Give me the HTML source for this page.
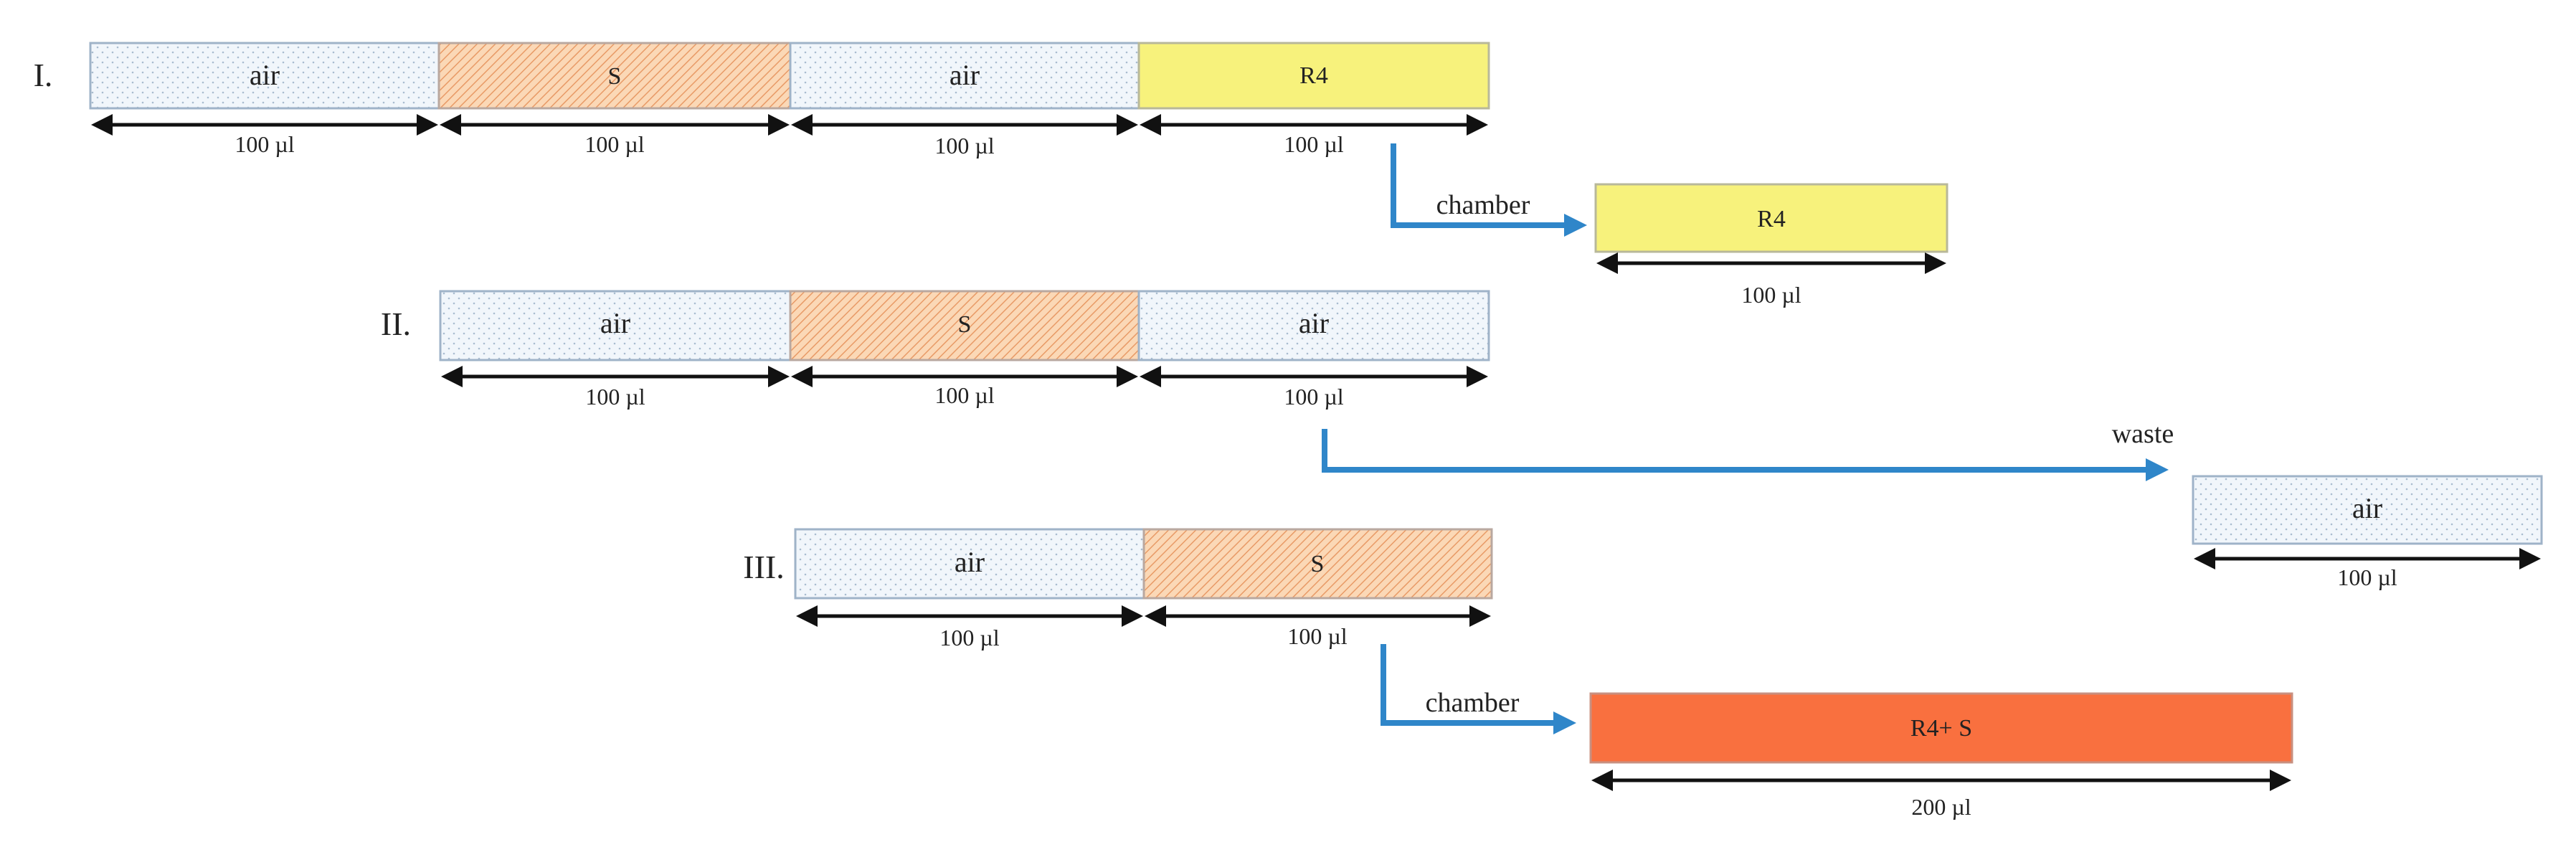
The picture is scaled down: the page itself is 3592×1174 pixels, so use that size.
<!DOCTYPE html>
<html><head><meta charset="utf-8"><style>
html,body{margin:0;padding:0;background:#fff;}
svg{display:block;}
text{font-family:"Liberation Serif",serif;fill:#222;}
</style></head><body>
<svg width="3592" height="1174" viewBox="0 0 3592 1174" xmlns="http://www.w3.org/2000/svg">
<defs>
<pattern id="dots" width="14" height="14" patternUnits="userSpaceOnUse">
<rect width="14" height="14" fill="#f1f6fb"/>
<circle cx="3" cy="3" r="1.3" fill="#a9bcd0"/>
<circle cx="10" cy="10" r="1.3" fill="#a9bcd0"/>
</pattern>
<pattern id="hatch" width="9" height="9" patternUnits="userSpaceOnUse" patternTransform="rotate(45)">
<rect width="9" height="9" fill="#fbd8b6"/>
<line x1="0" y1="0" x2="0" y2="9" stroke="#e89a66" stroke-width="3"/>
</pattern>
<marker id="ah" markerWidth="6" markerHeight="6" refX="5" refY="3" orient="auto-start-reverse" markerUnits="strokeWidth">
<path d="M0,0 L6,3 L0,6 z" fill="#111"/>
</marker>
<marker id="bh" markerWidth="4" markerHeight="4" refX="3" refY="2" orient="auto" markerUnits="strokeWidth">
<path d="M0,0 L4,2 L0,4 z" fill="#2f86c9"/>
</marker>
</defs>

<g stroke="#9fb3c8" stroke-width="3">
<!-- Row I -->
<rect x="126" y="60" width="486" height="91" fill="url(#dots)"/>
<rect x="612" y="60" width="490" height="91" fill="url(#hatch)" stroke="#b9a8a0"/>
<rect x="1102" y="60" width="486" height="91" fill="url(#dots)"/>
<rect x="1588" y="60" width="488" height="91" fill="#f7f27c" stroke="#b8b89a"/>
<rect x="2225" y="257" width="490" height="94" fill="#f7f27c" stroke="#b8b89a"/>
<!-- Row II -->
<rect x="614" y="406" width="488" height="96" fill="url(#dots)"/>
<rect x="1102" y="406" width="486" height="96" fill="url(#hatch)" stroke="#b9a8a0"/>
<rect x="1588" y="406" width="488" height="96" fill="url(#dots)"/>
<rect x="3058" y="664" width="486" height="94" fill="url(#dots)"/>
<!-- Row III -->
<rect x="1109" y="738" width="486" height="96" fill="url(#dots)"/>
<rect x="1595" y="738" width="485" height="96" fill="url(#hatch)" stroke="#b9a8a0"/>
<rect x="2218" y="967" width="978" height="96" fill="#f9703f" stroke="#c89080"/>
</g>

<g stroke="#111" stroke-width="5" fill="none" marker-start="url(#ah)" marker-end="url(#ah)">
<line x1="132" y1="174" x2="606" y2="174"/>
<line x1="618" y1="174" x2="1096" y2="174"/>
<line x1="1108" y1="174" x2="1582" y2="174"/>
<line x1="1594" y1="174" x2="2070" y2="174"/>
<line x1="2231" y1="367" x2="2709" y2="367"/>
<line x1="620" y1="525" x2="1096" y2="525"/>
<line x1="1108" y1="525" x2="1582" y2="525"/>
<line x1="1594" y1="525" x2="2070" y2="525"/>
<line x1="3064" y1="779" x2="3538" y2="779"/>
<line x1="1115" y1="859" x2="1589" y2="859"/>
<line x1="1601" y1="859" x2="2074" y2="859"/>
<line x1="2224" y1="1088" x2="3190" y2="1088"/>
</g>

<g stroke="#2f86c9" stroke-width="8" fill="none">
<polyline points="1943,200 1943,314 2205,314" marker-end="url(#bh)"/>
<polyline points="1847,598 1847,655 3016,655" marker-end="url(#bh)"/>
<polyline points="1929,898 1929,1008 2190,1008" marker-end="url(#bh)"/>
</g>

<g font-size="46" text-anchor="middle">
<text x="60" y="120">I.</text>
<text x="552" y="467">II.</text>
<text x="1065" y="806">III.</text>
</g>
<g font-size="40" text-anchor="middle">
<text x="369" y="118">air</text>
<text x="1345" y="118">air</text>
<text x="858" y="464">air</text>
<text x="1832" y="464">air</text>
<text x="3301" y="722">air</text>
<text x="1352" y="797">air</text>
</g>
<g font-size="34" text-anchor="middle">
<text x="857" y="117">S</text>
<text x="1345" y="463">S</text>
<text x="1837" y="797">S</text>
<text x="1832" y="116">R4</text>
<text x="2470" y="316">R4</text>
<text x="2707" y="1026">R4+ S</text>
</g>
<g font-size="32" text-anchor="middle">
<text x="369" y="212">100 µl</text>
<text x="857" y="212">100 µl</text>
<text x="1345" y="214">100 µl</text>
<text x="1832" y="212">100 µl</text>
<text x="2470" y="422">100 µl</text>
<text x="858" y="564">100 µl</text>
<text x="1345" y="562">100 µl</text>
<text x="1832" y="564">100 µl</text>
<text x="3301" y="816">100 µl</text>
<text x="1352" y="900">100 µl</text>
<text x="1837" y="898">100 µl</text>
<text x="2707" y="1136">200 µl</text>
</g>
<g font-size="38" text-anchor="middle">
<text x="2068" y="298">chamber</text>
<text x="2988" y="617">waste</text>
<text x="2053" y="992">chamber</text>
</g>
</svg>
</body></html>
